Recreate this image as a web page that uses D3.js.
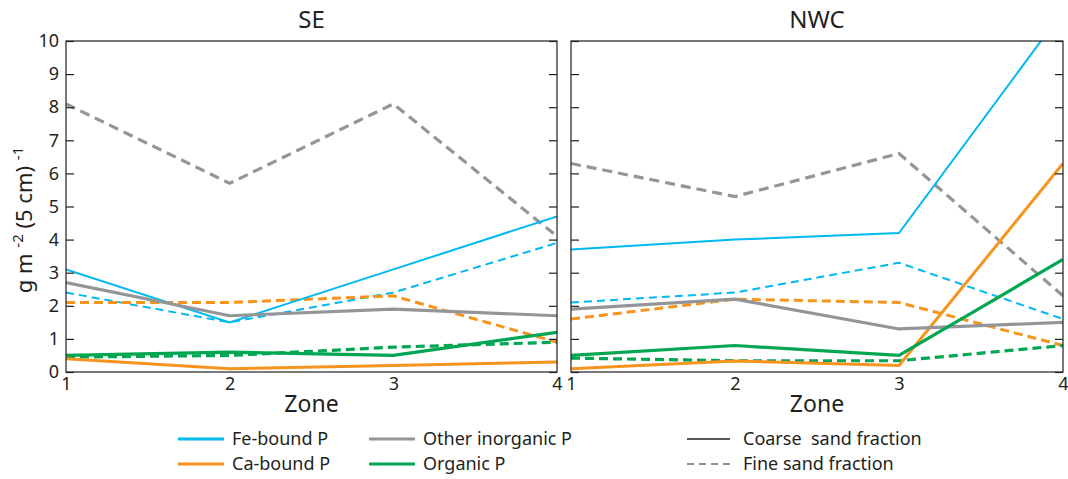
<!DOCTYPE html>
<html>
  <head>
    <meta charset="utf-8">
    <title>P fractions by zone</title>
    <script src="https://d3js.org/d3.v7.min.js"></script>
    <style>
      body { margin: 0; background: #fff; }
      text { fill: #231f20; font-family: "Noto Sans", sans-serif; }
    </style>
  </head>
  <body>
    <svg id="chart" width="1068" height="479"></svg>
    <script>
      // data
      var zones = [1, 2, 3, 4];
      var yTicks = [0, 1, 2, 3, 4, 5, 6, 7, 8, 9, 10];
      var sites = ["SE", "NWC"];
      var fractions = ["Fe-bound P", "Ca-bound P", "Other inorganic P", "Organic P"];
      var colors = ["#00b9f1", "#f7941d", "#939598", "#00a651"];
      // SE, coarse then fine
      var seCoarse = [
        [3.1, 1.5, 3.1, 4.7],
        [0.4, 0.1, 0.2, 0.3],
        [2.7, 1.7, 1.9, 1.7],
        [0.5, 0.6, 0.5, 1.2]
      ];
      var seFine = [
        [2.4, 1.5, 2.4, 3.9],
        [2.1, 2.1, 2.3, 0.9],
        [8.1, 5.7, 8.1, 4.1],
        [0.45, 0.5, 0.75, 0.9]
      ];
      // NWC
      var nwcCoarse = [
        [3.7, 4.0, 4.2, 10.9],
        [0.1, 0.33, 0.2, 6.3],
        [1.9, 2.2, 1.3, 1.5],
        [0.5, 0.8, 0.5, 3.4]
      ];
      var nwcFine = [
        [2.1, 2.4, 3.3, 1.6],
        [1.6, 2.2, 2.1, 0.8],
        [6.3, 5.3, 6.6, 2.3],
        [0.42, 0.34, 0.34, 0.8]
      ];

      var svg = d3.select("#chart");
      var plotTop = 41, plotBottom = 372;
      var panels = [
        { name: sites[0], x0: 66, x1: 557, coarse: seCoarse, fine: seFine },
        { name: sites[1], x0: 571, x1: 1063, coarse: nwcCoarse, fine: nwcFine }
      ];
      var y = d3.scaleLinear().domain([0, 10]).range([plotBottom, plotTop]);
      var widths = [2, 3, 3.2, 3.2];
      var dashes = ["8,5", "9,5", "10,6", "9,5"];

      panels.forEach(function(p, i) {
        var x = d3.scaleLinear().domain([1, 4]).range([p.x0, p.x1]);
        var g = svg.append("g");
        g.append("clipPath").attr("id", "clip" + i)
          .append("rect").attr("x", p.x0).attr("y", plotTop)
          .attr("width", p.x1 - p.x0).attr("height", plotBottom - plotTop);
        var line = d3.line()
          .x(function(d, j) { return x(zones[j]); })
          .y(function(d) { return y(d); });
        var lines = g.append("g").attr("clip-path", "url(#clip" + i + ")");
        // fine first, coarse on top
        p.fine.forEach(function(vals, k) {
          lines.append("path").attr("d", line(vals))
            .attr("fill", "none").attr("stroke", colors[k])
            .attr("stroke-width", widths[k]).attr("stroke-dasharray", dashes[k]);
        });
        p.coarse.forEach(function(vals, k) {
          lines.append("path").attr("d", line(vals))
            .attr("fill", "none").attr("stroke", colors[k])
            .attr("stroke-width", widths[k]);
        });
        // frame
        g.append("rect").attr("x", p.x0).attr("y", plotTop)
          .attr("width", p.x1 - p.x0).attr("height", plotBottom - plotTop)
          .attr("fill", "none").attr("stroke", "#231f20").attr("stroke-width", 1.2);
        // inner y ticks on both sides
        var left = d3.axisRight(y).tickValues(yTicks).tickSize(8).tickFormat("");
        var right = d3.axisLeft(y).tickValues(yTicks).tickSize(8).tickFormat("");
        [g.append("g").attr("transform", "translate(" + p.x0 + ",0)").call(left),
         g.append("g").attr("transform", "translate(" + p.x1 + ",0)").call(right)]
          .forEach(function(a) {
            a.select(".domain").remove();
            a.selectAll("line").attr("stroke", "#231f20").attr("stroke-width", 1.2);
          });
        // x labels
        var xa = g.append("g").attr("transform", "translate(0," + plotBottom + ")")
          .call(d3.axisBottom(x).tickValues(zones).tickSize(0).tickPadding(5).tickFormat(d3.format("d")));
        xa.select(".domain").remove();
        xa.selectAll("text").attr("font-size", 18).attr("font-family", null).attr("fill", "#231f20");
        g.append("text").attr("x", (p.x0 + p.x1) / 2).attr("y", 412)
          .attr("text-anchor", "middle").attr("font-size", 23).text("Zone");
        g.append("text").attr("x", (p.x0 + p.x1) / 2).attr("y", 28)
          .attr("text-anchor", "middle").attr("font-size", 24).text(p.name);
      });

      // y labels on left panel
      var ya = svg.append("g").attr("transform", "translate(66,0)")
        .call(d3.axisLeft(y).tickValues(yTicks).tickSize(0).tickPadding(7));
      ya.select(".domain").remove();
      ya.selectAll("text").attr("font-size", 18).attr("font-family", null).attr("fill", "#231f20");

      var ylab = svg.append("text")
        .attr("transform", "translate(32,220) rotate(-90)")
        .attr("text-anchor", "middle").attr("font-size", 22);
      ylab.append("tspan").text("g m ");
      ylab.append("tspan").attr("font-size", 15).attr("dy", -9).text("-2");
      ylab.append("tspan").attr("dy", 9).text(" (5 cm) ");
      ylab.append("tspan").attr("font-size", 15).attr("dy", -9).text(" -1");

      // legend
      var legX = [178, 369], legY = [439, 464];
      fractions.forEach(function(f, k) {
        var lx = legX[Math.floor(k / 2)], ly = legY[k % 2];
        svg.append("line").attr("x1", lx).attr("x2", lx + 46).attr("y1", ly).attr("y2", ly)
          .attr("stroke", colors[k]).attr("stroke-width", 3);
        svg.append("text").attr("x", lx + 54).attr("y", ly + 6).attr("font-size", 18).text(f);
      });
      var styles = ["Coarse  sand fraction", "Fine sand fraction"];
      styles.forEach(function(s, k) {
        svg.append("line").attr("x1", 687).attr("x2", 730).attr("y1", legY[k]).attr("y2", legY[k])
          .attr("stroke", k ? "#6d6e71" : "#231f20").attr("stroke-width", 1.4)
          .attr("stroke-dasharray", k ? "7,5" : null);
        svg.append("text").attr("x", 743).attr("y", legY[k] + 6).attr("font-size", 18)
          .attr("xml:space", "preserve").text(s);
      });
    </script>
  </body>
</html>
